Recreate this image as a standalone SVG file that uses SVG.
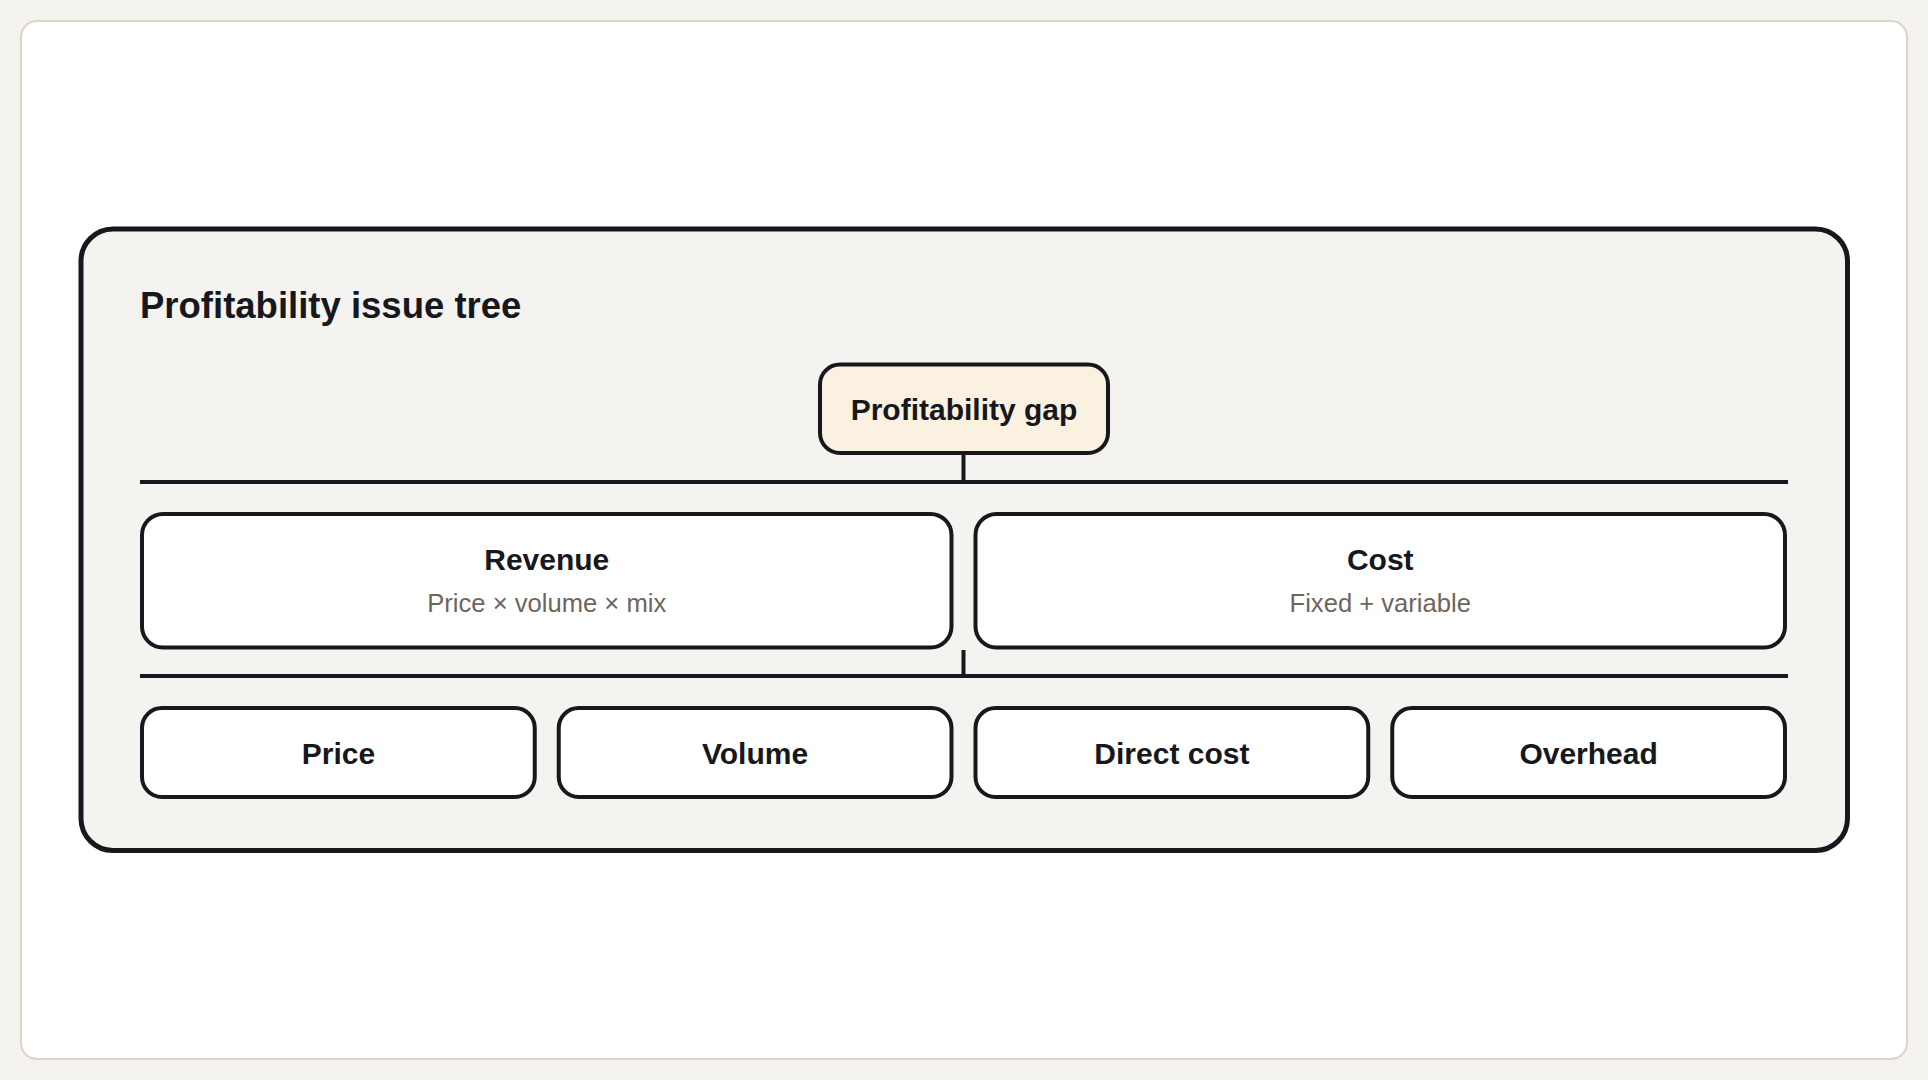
<svg xmlns="http://www.w3.org/2000/svg" width="1928" height="1080" viewBox="0 0 1928 1080">
  <style>
    .node rect { fill: #ffffff; stroke: #17181d; stroke-width: 4; }
    .lbl { font-family: "Liberation Sans", Arial, sans-serif; font-weight: bold; font-size: 30px; fill: #17181d; text-anchor: middle; }
    .sub { font-family: "Liberation Sans", Arial, sans-serif; font-size: 25.6px; fill: #6e665c; text-anchor: middle; }
    .conn line { stroke: #17181d; stroke-width: 4; }
  </style>
  <rect x="0" y="0" width="1928" height="1080" fill="#f4f2ee"/>
  <rect x="21" y="21" width="1886" height="1038" rx="16" fill="#ffffff" stroke="#ddd4c8" stroke-width="2"/>
  <g id="frame">
    <rect x="81" y="229" width="1766.5" height="621.5" rx="32" fill="#f4f3ef" stroke="#17181d" stroke-width="5"/>
    <text x="140" y="318" font-family="Liberation Sans, Arial, sans-serif" font-weight="bold" font-size="36.5" fill="#17181d">Profitability issue tree</text>
  </g>
  <g id="connectors" class="conn">
    <line x1="963.5" y1="455" x2="963.5" y2="482"/>
    <line x1="140" y1="482" x2="1788" y2="482"/>
    <line x1="963.5" y1="650" x2="963.5" y2="676"/>
    <line x1="140" y1="676" x2="1788" y2="676"/>
  </g>
  <g id="root" class="node">
    <rect x="820" y="364.5" width="288" height="88.5" rx="20" style="fill:#faf1e0"/>
    <text class="lbl" x="964" y="420">Profitability gap</text>
  </g>
  <g id="revenue" class="node">
    <rect x="142" y="514" width="809.5" height="133.5" rx="21"/>
    <text class="lbl" x="546.75" y="570">Revenue</text>
    <text class="sub" x="546.75" y="612">Price × volume × mix</text>
  </g>
  <g id="cost" class="node">
    <rect x="975.5" y="514" width="809.5" height="133.5" rx="21"/>
    <text class="lbl" x="1380.25" y="570">Cost</text>
    <text class="sub" x="1380.25" y="612">Fixed + variable</text>
  </g>
  <g id="price" class="node">
    <rect x="142" y="708" width="392.75" height="89" rx="20"/>
    <text class="lbl" x="338.4" y="764">Price</text>
  </g>
  <g id="volume" class="node">
    <rect x="558.75" y="708" width="392.75" height="89" rx="20"/>
    <text class="lbl" x="755.1" y="764">Volume</text>
  </g>
  <g id="direct-cost" class="node">
    <rect x="975.5" y="708" width="392.75" height="89" rx="20"/>
    <text class="lbl" x="1171.9" y="764">Direct cost</text>
  </g>
  <g id="overhead" class="node">
    <rect x="1392.25" y="708" width="392.75" height="89" rx="20"/>
    <text class="lbl" x="1588.6" y="764">Overhead</text>
  </g>
</svg>
